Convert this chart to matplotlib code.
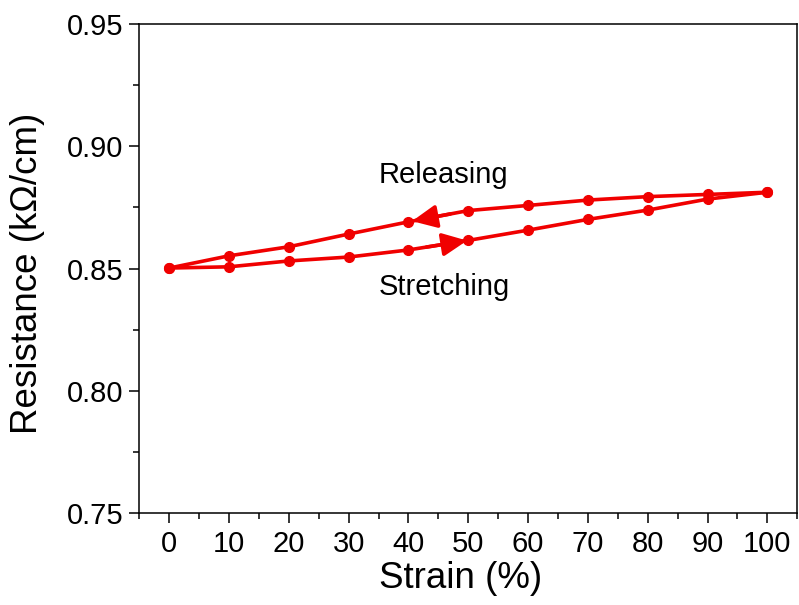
import numpy as np
import matplotlib
matplotlib.use("Agg")
import matplotlib.pyplot as plt

plt.rcParams['font.family'] = ['Liberation Sans', 'DejaVu Sans']

strain = [0, 10, 20, 30, 40, 50, 60, 70, 80, 90, 100]
stretching = [0.8502, 0.8507, 0.8531, 0.8547, 0.8576, 0.8615, 0.8657, 0.8701, 0.8739, 0.8784, 0.8812]
releasing = [0.8502, 0.8552, 0.8589, 0.8641, 0.8691, 0.8737, 0.8758, 0.8780, 0.8794, 0.8803, 0.8812]
x_ticks = [0, 10, 20, 30, 40, 50, 60, 70, 80, 90, 100]
y_ticks = [0.75, 0.80, 0.85, 0.90, 0.95]

red = '#F00000'
fig = plt.figure(figsize=(7.99, 6.05), dpi=100)
ax = fig.add_axes([0.1743, 0.152, 0.8236, 0.8083])

ax.plot(strain, stretching, '-o', color=red, lw=2.6, ms=7, zorder=3)
ax.plot(strain[::-1], releasing[::-1], '-o', color=red, lw=2.6, ms=7, zorder=3)

# direction arrows on the curves
def arrow(xs, ys, x_tip, x_tail):
    y_tip = np.interp(x_tip, xs, ys)
    y_tail = np.interp(x_tail, xs, ys)
    ax.annotate('', xy=(x_tip, y_tip), xytext=(x_tail, y_tail),
                arrowprops=dict(arrowstyle='-|>,head_length=0.75,head_width=0.35',
                                color=red, lw=2.6, mutation_scale=20,
                                shrinkA=0, shrinkB=0), zorder=4)

arrow(strain, releasing, 40.6, 47)
arrow(strain, stretching, 49.8, 43)

ax.text(35.0, 0.8848, 'Releasing', fontsize=21, ha='left', va='baseline')
ax.text(35.0, 0.8392, 'Stretching', fontsize=21, ha='left', va='baseline')

ax.set_xlim(-5, 105)
ax.set_ylim(0.75, 0.95)
ax.set_xticks(x_ticks)
ax.set_yticks(y_ticks)
ax.set_xticks(np.arange(-5, 106, 10), minor=True)
ax.set_yticks([0.775, 0.825, 0.875, 0.925], minor=True)
ax.set_yticklabels(['%.2f' % v for v in y_ticks])
ax.tick_params(which='major', direction='out', length=7.5, width=1.1, labelsize=21, pad=4)
ax.tick_params(which='minor', direction='out', length=4, width=1.1)
ax.tick_params(axis='x', which='major', pad=5)
for s in ax.spines.values():
    s.set_linewidth(1.1)

ax.set_xlabel('Strain (%)', fontsize=26.5)
ax.set_ylabel('Resistance (k\u03a9/cm)', fontsize=26.5)
ax.xaxis.set_label_coords(0.489, -0.098)
ax.yaxis.set_label_coords(-0.143, 0.49)

fig.savefig('out.png', dpi=100)
